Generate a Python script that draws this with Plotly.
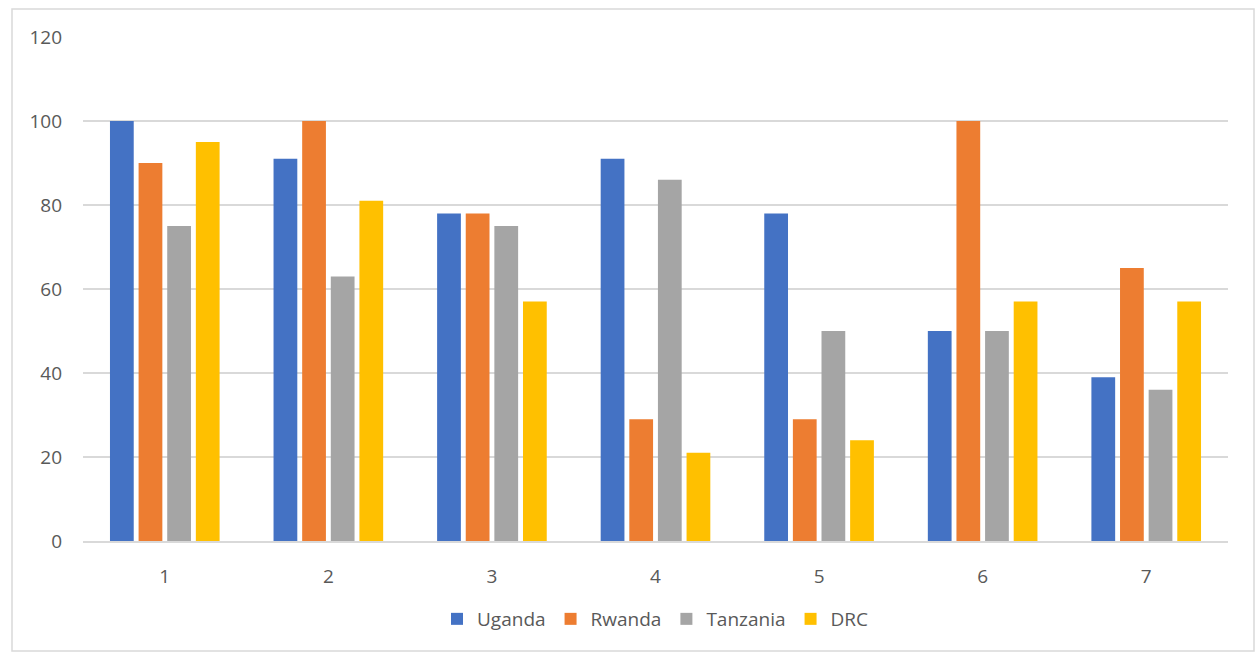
import plotly.graph_objects as go

categories = ["1", "2", "3", "4", "5", "6", "7"]
uganda = [100, 91, 78, 91, 78, 50, 39]
rwanda = [90, 100, 78, 29, 29, 100, 65]
tanzania = [75, 63, 75, 86, 50, 50, 36]
drc = [95, 81, 57, 21, 24, 57, 57]

series = [
    ("Uganda", uganda, "#4472C4"),
    ("Rwanda", rwanda, "#ED7D31"),
    ("Tanzania", tanzania, "#A5A5A5"),
    ("DRC", drc, "#FFC000"),
]

fig = go.Figure()
for name, vals, color in series:
    fig.add_trace(go.Bar(x=categories, y=vals, name=name,
                         marker=dict(color=color, line=dict(width=0))))

W, H = 1256, 652
L, R, T, B = 83, 28, 37, 111
pw = W - L - R
ph = H - T - B

def px_x(x):
    return (x - L) / pw

def px_y(y):
    return (H - B - y) / ph

fig.update_layout(
    width=W, height=H,
    margin=dict(l=L, r=R, t=T, b=B),
    paper_bgcolor="white", plot_bgcolor="white",
    barmode="group", bargap=0.30, bargroupgap=0.17,
    font=dict(family="Open Sans, Noto Sans, sans-serif", size=19, color="#595959"),
    legend=dict(orientation="h", x=0.5, xanchor="center", y=px_y(619), yanchor="middle",
                font=dict(size=19, color="#595959"), itemwidth=30, traceorder="normal"),
    xaxis=dict(showgrid=False, showline=True, linecolor="#D9D9D9", linewidth=2,
               ticks="", ticklabelstandoff=17, tickfont=dict(size=19, color="#595959")),
    yaxis=dict(range=[0, 120], dtick=20, showgrid=True, gridcolor="#D9D9D9", gridwidth=2,
               zeroline=False, showline=False, ticks="", ticklen=0, ticklabelstandoff=20,
               tickfont=dict(size=19, color="#595959")),
    shapes=[dict(type="rect", xref="paper", yref="paper",
                 x0=px_x(12), x1=px_x(1254), y0=px_y(651), y1=px_y(9),
                 line=dict(color="#D9D9D9", width=1.5), fillcolor="rgba(0,0,0,0)", layer="below")],
)

fig.write_html("out.html")
